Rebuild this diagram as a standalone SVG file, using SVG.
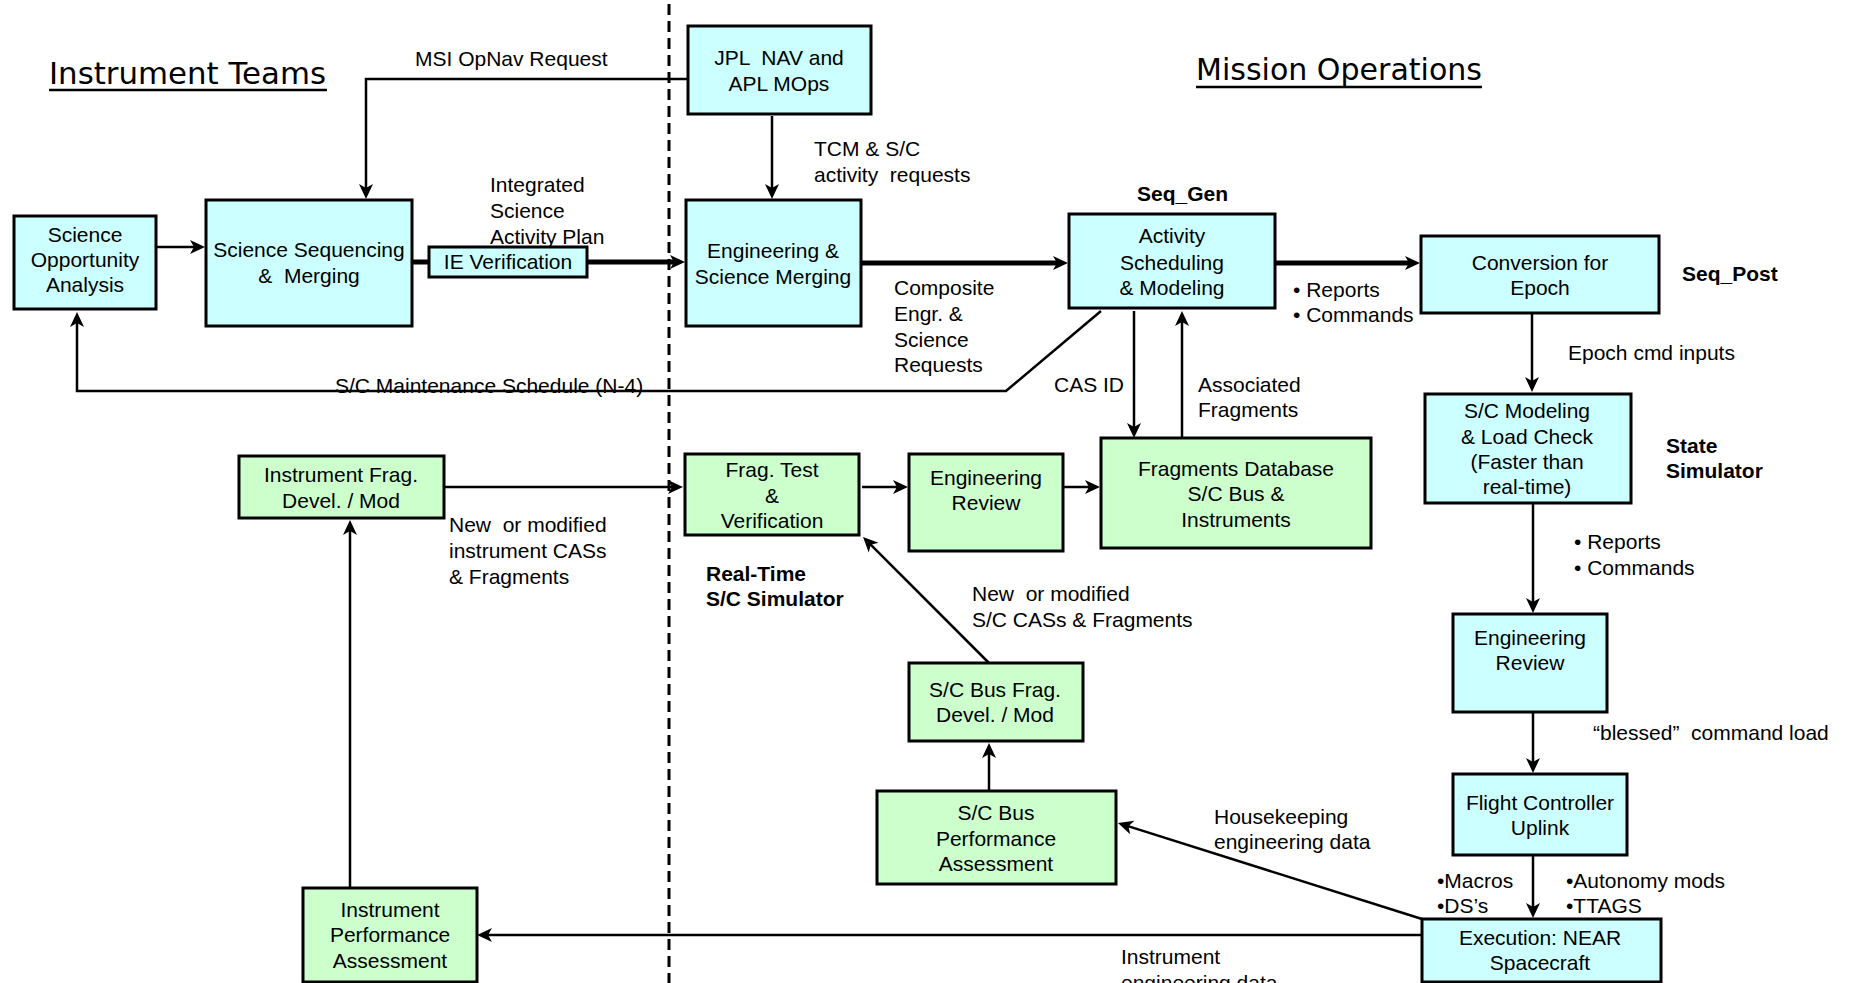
<svg xmlns="http://www.w3.org/2000/svg" width="1857" height="983" viewBox="0 0 1857 983">
  <style>
    text { font-family: "Liberation Sans", Arial, sans-serif; font-size: 21px; fill: #000; white-space: pre; }
    .c { text-anchor: middle; }
    .b { font-weight: bold; }
    .title { font-family: "DejaVu Sans", "Liberation Sans", sans-serif; font-size: 30px; }
    .box { stroke: #000; stroke-width: 3; }
    .cyan { fill: #CCFFFF; }
    .green { fill: #CCFFCC; }
    .ln { fill: none; stroke: #000; stroke-width: 2.5; }
    .thick { fill: none; stroke: #000; stroke-width: 5; }
    .arr { marker-end: url(#ah); }
    .divider { stroke: #000; stroke-width: 3; stroke-dasharray: 11 6; }
  </style>
  <defs>
    <marker id="ah" markerUnits="userSpaceOnUse" markerWidth="20" markerHeight="20" viewBox="0 -10 20 20" refX="8" refY="0" orient="auto">
      <path d="M16,0 L1,-7 L5,0 L1,7 Z" fill="#000"/>
    </marker>
  </defs>

  <rect width="1857" height="983" fill="#fff"/>

  <!-- team / operations divider -->
  <line class="divider" x1="669" y1="4" x2="669" y2="983"/>

  <!-- section headings -->
  <g id="heading-instrument-teams">
    <text class="title" x="49" y="84" textLength="277" lengthAdjust="spacingAndGlyphs">Instrument Teams</text>
    <line x1="49" y1="90" x2="327" y2="90" stroke="#000" stroke-width="2.5"/>
  </g>
  <g id="heading-mission-operations">
    <text class="title" x="1196" y="80" textLength="286" lengthAdjust="spacingAndGlyphs">Mission Operations</text>
    <line x1="1196" y1="87" x2="1482" y2="87" stroke="#000" stroke-width="2.5"/>
  </g>

  <!-- connectors -->
  <g id="connectors">
    <path class="ln arr" d="M688,79 H366 V191"/>
    <path class="ln arr" d="M772,116 V191"/>
    <path class="ln arr" d="M156,247 H197"/>
    <path class="thick" d="M412,262 H429"/>
    <path class="thick arr" d="M587,262 H677"/>
    <path class="thick arr" d="M861,263 H1060"/>
    <path class="thick arr" d="M1275,263 H1412"/>
    <path class="ln arr" d="M1101,311 L1006,391 H77 V320"/>
    <path class="ln arr" d="M1134,311 V430"/>
    <path class="ln arr" d="M1182,438 V319"/>
    <path class="ln arr" d="M1532,313 V384"/>
    <path class="ln arr" d="M1533,503 V605"/>
    <path class="ln arr" d="M1533,712 V765"/>
    <path class="ln arr" d="M1533,855 V910"/>
    <path class="ln arr" d="M1422,935 H485"/>
    <path class="ln arr" d="M1422,919 L1125.6,825.4"/>
    <path class="ln arr" d="M444,487 H675"/>
    <path class="ln arr" d="M862,487 H900"/>
    <path class="ln arr" d="M1063,487 H1092"/>
    <path class="ln arr" d="M350,888 V528"/>
    <path class="ln arr" d="M989,791 V751"/>
    <path class="ln arr" d="M989,663 L868.7,542.7"/>
  </g>

  <!-- connector labels -->
  <g id="labels">
    <text x="415" y="66">MSI OpNav Request</text>
    <text x="814" y="156">TCM &amp; S/C</text>
    <text x="814" y="182">activity  requests</text>
    <text x="490" y="192">Integrated</text>
    <text x="490" y="218">Science</text>
    <text x="490" y="244">Activity Plan</text>
    <text x="894" y="295">Composite</text>
    <text x="894" y="321">Engr. &amp;</text>
    <text x="894" y="347">Science</text>
    <text x="894" y="372">Requests</text>
    <text class="b" x="1137" y="201">Seq_Gen</text>
    <text x="1293" y="297">• Reports</text>
    <text x="1293" y="322">• Commands</text>
    <text class="b" x="1682" y="281">Seq_Post</text>
    <text x="1568" y="360">Epoch cmd inputs</text>
    <text class="b" x="1666" y="453">State</text>
    <text class="b" x="1666" y="478">Simulator</text>
    <text x="1574" y="549">• Reports</text>
    <text x="1574" y="575">• Commands</text>
    <text x="1593" y="740">“blessed”  command load</text>
    <text x="1437" y="888">•Macros</text>
    <text x="1437" y="913">•DS’s</text>
    <text x="1566" y="888">•Autonomy mods</text>
    <text x="1566" y="913">•TTAGS</text>
    <text x="1054" y="392">CAS ID</text>
    <text x="1198" y="392">Associated</text>
    <text x="1198" y="417">Fragments</text>
    <text x="335" y="393">S/C Maintenance Schedule (N-4)</text>
    <text x="449" y="532">New  or modified</text>
    <text x="449" y="558">instrument CASs</text>
    <text x="449" y="584">&amp; Fragments</text>
    <text class="b" x="706" y="581">Real-Time</text>
    <text class="b" x="706" y="606">S/C Simulator</text>
    <text x="972" y="601">New  or modified</text>
    <text x="972" y="627">S/C CASs &amp; Fragments</text>
    <text x="1214" y="824">Housekeeping</text>
    <text x="1214" y="849">engineering data</text>
    <text x="1121" y="964">Instrument</text>
    <text x="1121" y="990">engineering data</text>
  </g>

  <!-- nodes -->
  <g id="science-opportunity-analysis">
    <rect class="box cyan" x="14" y="216" width="142" height="93"/>
    <text class="c" x="85" y="242">Science</text>
    <text class="c" x="85" y="267">Opportunity</text>
    <text class="c" x="85" y="292">Analysis</text>
  </g>
  <g id="science-sequencing-merging">
    <rect class="box cyan" x="206" y="200" width="206" height="126"/>
    <text class="c" x="309" y="257">Science Sequencing</text>
    <text class="c" x="309" y="283">&amp;  Merging</text>
  </g>
  <g id="ie-verification">
    <rect class="box cyan" x="429" y="247" width="158" height="30"/>
    <text class="c" x="508" y="269">IE Verification</text>
  </g>
  <g id="jpl-nav-apl-mops">
    <rect class="box cyan" x="688" y="26" width="183" height="88"/>
    <text class="c" x="779" y="65">JPL  NAV and</text>
    <text class="c" x="779" y="91">APL MOps</text>
  </g>
  <g id="engineering-science-merging">
    <rect class="box cyan" x="686" y="200" width="175" height="126"/>
    <text class="c" x="773" y="258">Engineering &amp;</text>
    <text class="c" x="773" y="284">Science Merging</text>
  </g>
  <g id="activity-scheduling-modeling">
    <rect class="box cyan" x="1069" y="214" width="206" height="94"/>
    <text class="c" x="1172" y="243">Activity</text>
    <text class="c" x="1172" y="270">Scheduling</text>
    <text class="c" x="1172" y="295">&amp; Modeling</text>
  </g>
  <g id="conversion-for-epoch">
    <rect class="box cyan" x="1421" y="236" width="238" height="77"/>
    <text class="c" x="1540" y="270">Conversion for</text>
    <text class="c" x="1540" y="295">Epoch</text>
  </g>
  <g id="sc-modeling-load-check">
    <rect class="box cyan" x="1425" y="394" width="206" height="109"/>
    <text class="c" x="1527" y="418">S/C Modeling</text>
    <text class="c" x="1527" y="444">&amp; Load Check</text>
    <text class="c" x="1527" y="469">(Faster than</text>
    <text class="c" x="1527" y="494">real-time)</text>
  </g>
  <g id="engineering-review-ops">
    <rect class="box cyan" x="1453" y="614" width="154" height="98"/>
    <text class="c" x="1530" y="645">Engineering</text>
    <text class="c" x="1530" y="670">Review</text>
  </g>
  <g id="flight-controller-uplink">
    <rect class="box cyan" x="1453" y="774" width="174" height="81"/>
    <text class="c" x="1540" y="810">Flight Controller</text>
    <text class="c" x="1540" y="835">Uplink</text>
  </g>
  <g id="execution-near-spacecraft">
    <rect class="box cyan" x="1422" y="919" width="239" height="63"/>
    <text class="c" x="1540" y="945">Execution: NEAR</text>
    <text class="c" x="1540" y="970">Spacecraft</text>
  </g>
  <g id="instrument-frag-devel">
    <rect class="box green" x="239" y="456" width="205" height="62"/>
    <text class="c" x="341" y="482">Instrument Frag.</text>
    <text class="c" x="341" y="508">Devel. / Mod</text>
  </g>
  <g id="frag-test-verification">
    <rect class="box green" x="685" y="454" width="174" height="81"/>
    <text class="c" x="772" y="477">Frag. Test</text>
    <text class="c" x="772" y="503">&amp;</text>
    <text class="c" x="772" y="528">Verification</text>
  </g>
  <g id="engineering-review-frag">
    <rect class="box green" x="909" y="454" width="154" height="97"/>
    <text class="c" x="986" y="485">Engineering</text>
    <text class="c" x="986" y="510">Review</text>
  </g>
  <g id="fragments-database">
    <rect class="box green" x="1101" y="438" width="270" height="110"/>
    <text class="c" x="1236" y="476">Fragments Database</text>
    <text class="c" x="1236" y="501">S/C Bus &amp;</text>
    <text class="c" x="1236" y="527">Instruments</text>
  </g>
  <g id="sc-bus-frag-devel">
    <rect class="box green" x="909" y="663" width="174" height="78"/>
    <text class="c" x="995" y="697">S/C Bus Frag.</text>
    <text class="c" x="995" y="722">Devel. / Mod</text>
  </g>
  <g id="sc-bus-performance-assessment">
    <rect class="box green" x="877" y="791" width="239" height="93"/>
    <text class="c" x="996" y="820">S/C Bus</text>
    <text class="c" x="996" y="846">Performance</text>
    <text class="c" x="996" y="871">Assessment</text>
  </g>
  <g id="instrument-performance-assessment">
    <rect class="box green" x="303" y="888" width="174" height="94"/>
    <text class="c" x="390" y="917">Instrument</text>
    <text class="c" x="390" y="942">Performance</text>
    <text class="c" x="390" y="968">Assessment</text>
  </g>
</svg>
